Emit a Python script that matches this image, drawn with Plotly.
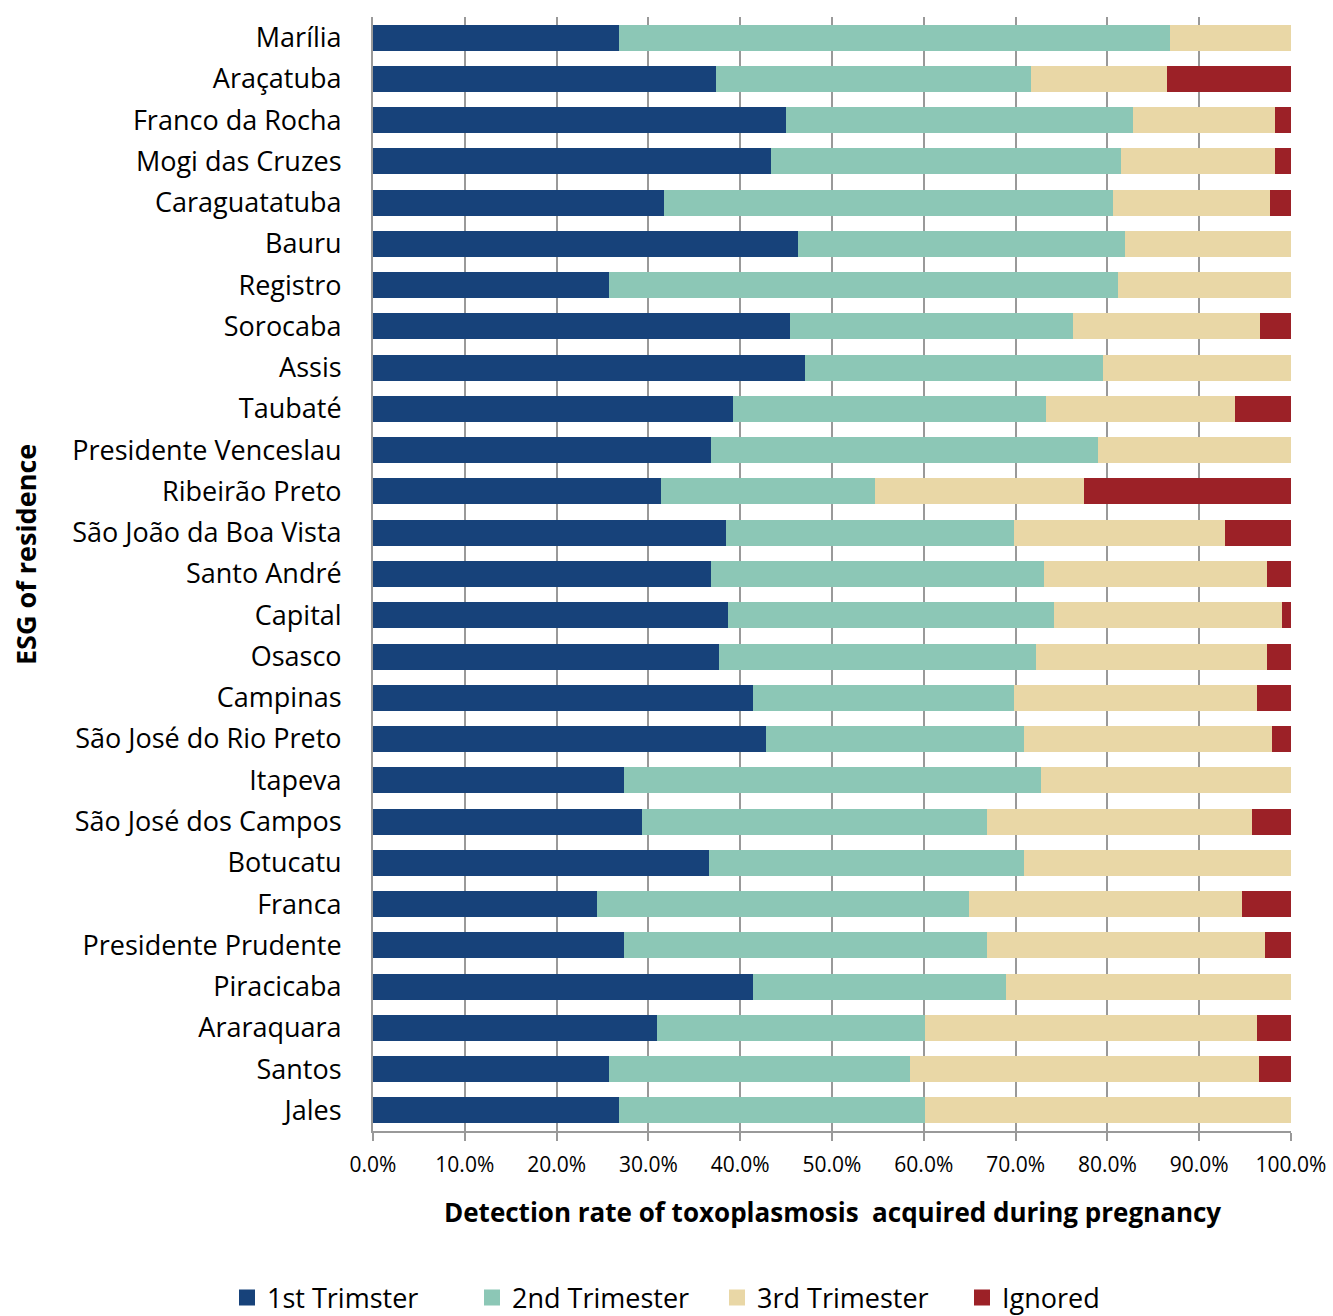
import plotly.graph_objects as go

regions = ["Marília", "Araçatuba", "Franco da Rocha", "Mogi das Cruzes", "Caraguatatuba",
           "Bauru", "Registro", "Sorocaba", "Assis", "Taubaté", "Presidente Venceslau",
           "Ribeirão Preto", "São João da Boa Vista", "Santo André", "Capital", "Osasco",
           "Campinas", "São José do Rio Preto", "Itapeva", "São José dos Campos", "Botucatu",
           "Franca", "Presidente Prudente", "Piracicaba", "Araraquara", "Santos", "Jales"]

first_trim = [26.8, 37.4, 45.0, 43.4, 31.7, 46.3, 25.7, 45.4, 47.1, 39.2, 36.8, 31.4, 38.5,
              36.8, 38.7, 37.7, 41.4, 42.8, 27.3, 29.3, 36.6, 24.4, 27.3, 41.4, 30.9, 25.7, 26.8]
second_trim = [60.0, 34.3, 37.8, 38.1, 48.9, 35.6, 55.5, 30.9, 32.4, 34.1, 42.2, 23.3, 31.3,
               36.3, 35.5, 34.5, 28.4, 28.1, 45.5, 37.6, 34.3, 40.5, 39.6, 27.6, 29.2, 32.8, 33.3]
third_trim = [13.2, 14.8, 15.5, 16.8, 17.1, 18.1, 18.8, 20.3, 20.5, 20.6, 21.0, 22.8, 23.0,
              24.3, 24.8, 25.2, 26.5, 27.0, 27.2, 28.9, 29.1, 29.8, 30.3, 31.0, 36.2, 38.0, 39.9]
ignored = [0.0, 13.5, 1.7, 1.7, 2.3, 0.0, 0.0, 3.4, 0.0, 6.1, 0.0, 22.5, 7.2,
           2.6, 1.0, 2.6, 3.7, 2.1, 0.0, 4.2, 0.0, 5.3, 2.8, 0.0, 3.7, 3.7, 0.0]

series_names = ["1st Trimster", "2nd Trimester", "3rd Trimester", "Ignored"]
series_values = [first_trim, second_trim, third_trim, ignored]
colors = ["#17427a", "#8cc7b6", "#e9d7a6", "#9c2127"]

FONT = "Open Sans"
GRID = "#999999"

fig = go.Figure()
for name, vals, col in zip(series_names, series_values, colors):
    fig.add_trace(go.Bar(
        y=regions, x=[v / 100 for v in vals], name=name, orientation="h",
        marker=dict(color=col, line=dict(width=0)), showlegend=False,
    ))
# legend entries with larger square swatches
for name, col in zip(series_names, colors):
    fig.add_trace(go.Scatter(
        x=[None], y=[None], mode="markers", name=name,
        marker=dict(symbol="square", size=20, color=col), showlegend=True,
    ))

fig.update_layout(
    barmode="stack",
    bargap=0.37,
    width=1333, height=1316,
    margin=dict(l=373, r=42, t=17, b=185, autoexpand=False),
    plot_bgcolor="white", paper_bgcolor="white",
    font=dict(family=FONT, color="black"),
    showlegend=True,
    legend=dict(orientation="h", xref="paper", x=-(373 - 227) / 918, xanchor="left",
                yref="paper", y=-(1298 - 1131) / 1114, yanchor="middle",
                font=dict(size=27, family=FONT), traceorder="normal",
                itemwidth=30, itemsizing="trace", tracegroupgap=0,
                entrywidth=200, entrywidthmode="pixels"),
    xaxis=dict(range=[0, 1], dtick=0.1, tick0=0, tickformat=".1%",
               showgrid=True, gridcolor=GRID, gridwidth=2,
               showline=True, linecolor=GRID, linewidth=2,
               ticks="outside", ticklen=8, tickcolor=GRID, tickwidth=2,
               tickfont=dict(size=21, family=FONT), zeroline=False,
               ticklabelstandoff=6, automargin=False),
    yaxis=dict(categoryorder="array", categoryarray=regions, autorange="reversed",
               showline=True, linecolor=GRID, linewidth=2, showgrid=False,
               ticks="", tickfont=dict(size=27, family=FONT), ticklabelstandoff=24,
               automargin=False),
)

fig.add_annotation(text="<b>Detection rate of toxoplasmosis  acquired during pregnancy</b>",
                   xref="paper", yref="paper", x=0.5, y=-(1212 - 1131) / 1114,
                   xanchor="center", yanchor="middle", showarrow=False,
                   font=dict(size=26, family=FONT))
fig.add_annotation(text="<b>ESG of residence</b>", textangle=-90,
                   xref="paper", yref="paper", x=-(373 - 25) / 918, y=1 - (555 - 17) / 1114,
                   xanchor="center", yanchor="middle", showarrow=False,
                   font=dict(size=27, family=FONT))

fig.write_html("out.html")
